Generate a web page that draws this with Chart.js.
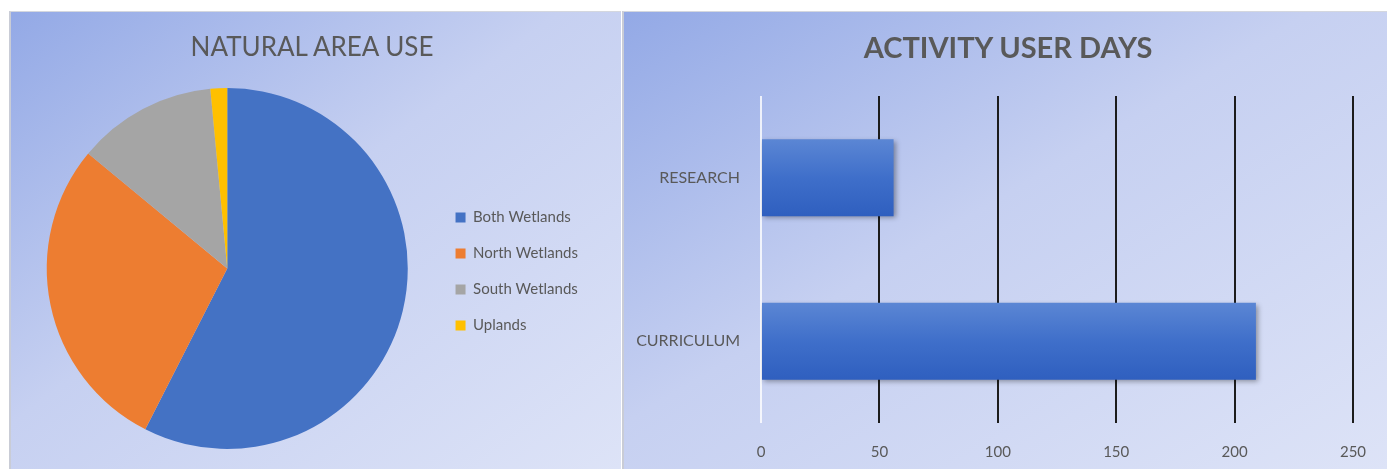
<!DOCTYPE html>
<html>
<head>
<meta charset="utf-8">
<script src="https://cdn.jsdelivr.net/npm/chart.js@4"></script>
<style>
  body { margin: 0; background: #fff; width: 1387px; height: 469px; overflow: hidden; }
  .panel { position: absolute; top: 11px; height: 458px; box-sizing: border-box; overflow: hidden;
    background: linear-gradient(to bottom right, #93a9e6 0%, #c6d0f1 45%, #dde3f7 100%); }
  #leftPanel { left: 9px; width: 612px; border-left: 2px solid #c9ccd6; border-top: 1px solid #d4d7de; }
  #rightPanel { left: 622px; width: 765px; border-left: 2px solid #c9ccd6; border-top: 1px solid #d4d7de; }
  canvas { display: block; }
  .title { position: absolute; transform: translateX(-50%); white-space: nowrap;
    font-family: Lato, "Open Sans", sans-serif; color: #595959; line-height: 30px; }
  #leftPanel .title { left: 301px; top: 19px; font-size: 26px; }
  #rightPanel .title { left: 384px; top: 20px; font-size: 29px; font-weight: bold; }
</style>
</head>
<body>
<div class="panel" id="leftPanel"><canvas id="area"></canvas><div class="title">NATURAL AREA USE</div></div>
<div class="panel" id="rightPanel"><canvas id="days"></canvas><div class="title">ACTIVITY USER DAYS</div></div>
<script>
// ---------- DATA ----------
const areaLabels = ['Both Wetlands', 'North Wetlands', 'South Wetlands', 'Uplands'];
const areaValues = [115, 57, 25, 3];
const areaColors = ['#4472c4', '#ed7d31', '#a5a5a5', '#ffc000'];

const activityLabels = ['RESEARCH', 'CURRICULUM'];
const activityValues = [56, 209];
const dayTicks = [0, 50, 100, 150, 200, 250];

const textColor = '#595959';
Chart.defaults.font.family = 'Lato, "Open Sans", sans-serif';
Chart.defaults.color = textColor;

// ---------- PIE CHART ----------
const area = document.getElementById('area');
area.width = 610; area.height = 457;
new Chart(area, {
  type: 'pie',
  data: {
    labels: areaLabels,
    datasets: [{
      data: areaValues,
      backgroundColor: areaColors,
      borderWidth: 0
    }]
  },
  options: {
    responsive: false,
    animation: false,
    layout: { padding: { left: 9, right: 33, top: 76, bottom: 20 } },
    plugins: {
      legend: {
        position: 'right',
        // empty title, only nudges the items down a little
        title: { display: true, text: '', font: { size: 1 }, padding: { top: 5, bottom: 0 } },
        labels: {
          boxWidth: 10,
          boxHeight: 10,
          padding: 21,
          color: textColor,
          font: { size: 15 }
        }
      },
      tooltip: { enabled: false }
    }
  }
});

// ---------- BAR CHART ----------
// soft shadow under the bars
const barShadow = {
  id: 'barShadow',
  beforeDatasetDraw(chart) {
    const ctx = chart.ctx;
    ctx.save();
    ctx.shadowColor = 'rgba(0,0,0,0.35)';
    ctx.shadowBlur = 5;
    ctx.shadowOffsetX = 2;
    ctx.shadowOffsetY = 2;
  },
  afterDatasetDraw(chart) {
    chart.ctx.restore();
  }
};

const barPct = 0.47;

const days = document.getElementById('days');
days.width = 763; days.height = 457;
new Chart(days, {
  type: 'bar',
  data: {
    labels: activityLabels,
    datasets: [{
      data: activityValues,
      backgroundColor(c) {
        const ch = c.chart;
        const ys = ch.scales.y;
        if (!ch.chartArea || !ys) return '#3f6fca';
        const mid = ys.getPixelForValue(c.dataIndex);
        const half = ch.chartArea.height / activityLabels.length * barPct / 2;
        if (!isFinite(mid) || !isFinite(half)) return '#3f6fca';
        const g = ch.ctx.createLinearGradient(0, mid - half, 0, mid + half);
        g.addColorStop(0, '#5b86d4');
        g.addColorStop(0.5, '#3f6fca');
        g.addColorStop(1, '#2f5fbf');
        return g;
      },
      borderWidth: 0,
      barPercentage: barPct,
      categoryPercentage: 1
    }]
  },
  options: {
    indexAxis: 'y',
    responsive: false,
    animation: false,
    layout: { padding: { left: 0, right: 34, top: 84, bottom: 0 } },
    scales: {
      x: {
        min: 0,
        max: 250,
        afterBuildTicks(s) { s.ticks = dayTicks.map(v => ({ value: v })); },
        afterFit(s) { s.height = 46; },
        border: { display: false },
        grid: {
          drawTicks: false,
          lineWidth: 2,
          color(c) { return c.tick && c.tick.value === 0 ? 'rgba(255,255,255,0.8)' : '#1c1c1c'; }
        },
        ticks: { padding: 20, color: textColor, font: { size: 15 } }
      },
      y: {
        afterFit(s) { s.width = 137; },
        border: { display: false },
        grid: { display: false },
        ticks: { padding: 13, color: textColor, font: { size: 16 } }
      }
    },
    plugins: {
      legend: { display: false },
      tooltip: { enabled: false }
    }
  },
  plugins: [barShadow]
});
</script>
</body>
</html>
